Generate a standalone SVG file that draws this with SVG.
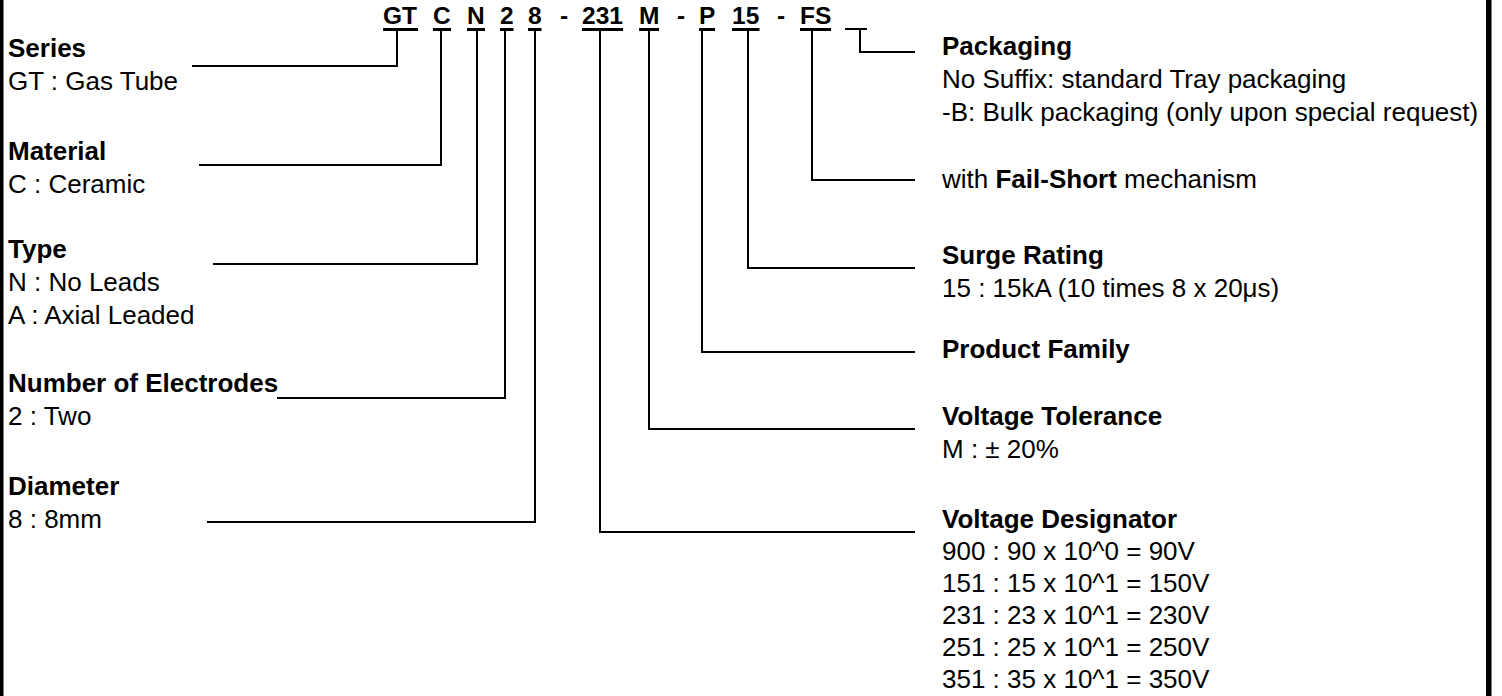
<svg xmlns="http://www.w3.org/2000/svg" width="1502" height="696" viewBox="0 0 1502 696">
<style>
text{font-family:"Liberation Sans",Arial,sans-serif;font-size:26px;fill:#000}
.b{font-weight:bold}
.code{font-weight:bold;font-size:24.5px}
.ln{stroke:#000;stroke-width:2;fill:none}
.ul{fill:#000}
</style>
<rect x="0" y="0" width="1502" height="696" fill="#fff"/>
<rect x="0" y="0" width="3.5" height="696" fill="#000"/>
<rect x="1486" y="0" width="5.5" height="696" fill="#000"/>

<g id="code">
<text class="code" x="383" y="24">GT</text>
<text class="code" x="433" y="24">C</text>
<text class="code" x="467" y="24">N</text>
<text class="code" x="500" y="24">2</text>
<text class="code" x="528" y="24">8</text>
<text class="code" x="560" y="24">-</text>
<text class="code" x="582" y="24">231</text>
<text class="code" x="639" y="24">M</text>
<text class="code" x="677" y="24">-</text>
<text class="code" x="699" y="24">P</text>
<text class="code" x="732" y="24">15</text>
<text class="code" x="777" y="24">-</text>
<text class="code" x="800" y="24">FS</text>
<rect class="ul" x="383" y="28" width="35" height="3"/>
<rect class="ul" x="433" y="28" width="18" height="3"/>
<rect class="ul" x="467" y="28" width="18" height="3"/>
<rect class="ul" x="500" y="28" width="13.5" height="3"/>
<rect class="ul" x="528" y="28" width="13.5" height="3"/>
<rect class="ul" x="582" y="28" width="41" height="3"/>
<rect class="ul" x="639" y="28" width="20" height="3"/>
<rect class="ul" x="699" y="28" width="16" height="3"/>
<rect class="ul" x="732" y="28" width="27.5" height="3"/>
<rect class="ul" x="800" y="28" width="31" height="3"/>
<rect class="ul" x="845" y="28" width="22" height="2"/>
</g>

<g id="connectors">
<polyline class="ln" points="397,31 397,66 192,66"/>
<polyline class="ln" points="441,31 441,165 199,165"/>
<polyline class="ln" points="477,31 477,264 213,264"/>
<polyline class="ln" points="505,31 505,398 277,398"/>
<polyline class="ln" points="535,31 535,522 207,522"/>
<polyline class="ln" points="860,30 860,52 915,52"/>
<polyline class="ln" points="812,31 812,180 915,180"/>
<polyline class="ln" points="748,31 748,268 915,268"/>
<polyline class="ln" points="702,31 702,352 915,352"/>
<polyline class="ln" points="649,31 649,429 915,429"/>
<polyline class="ln" points="600,31 600,532 915,532"/>
</g>

<g id="series">
<text class="b" x="8" y="57">Series</text>
<text x="8" y="90">GT : Gas Tube</text>
</g>
<g id="material">
<text class="b" x="8" y="160">Material</text>
<text x="8" y="193">C : Ceramic</text>
</g>
<g id="type">
<text class="b" x="8" y="258">Type</text>
<text x="8" y="291">N : No Leads</text>
<text x="8" y="324">A : Axial Leaded</text>
</g>
<g id="electrodes">
<text class="b" x="8" y="392">Number of Electrodes</text>
<text x="8" y="425">2 : Two</text>
</g>
<g id="diameter">
<text class="b" x="8" y="495">Diameter</text>
<text x="8" y="528">8 : 8mm</text>
</g>

<g id="packaging">
<text class="b" x="942" y="55">Packaging</text>
<text x="942" y="88">No Suffix: standard Tray packaging</text>
<text x="942" y="121">-B: Bulk packaging (only upon special request)</text>
</g>
<g id="failshort">
<text x="942" y="188">with <tspan class="b">Fail-Short</tspan> mechanism</text>
</g>
<g id="surge">
<text class="b" x="942" y="264">Surge Rating</text>
<text x="942" y="297">15 : 15kA (10 times 8 x 20μs)</text>
</g>
<g id="family">
<text class="b" x="942" y="358">Product Family</text>
</g>
<g id="tolerance">
<text class="b" x="942" y="425">Voltage Tolerance</text>
<text x="942" y="458">M : ± 20%</text>
</g>
<g id="designator">
<text class="b" x="942" y="528">Voltage Designator</text>
<text x="942" y="560">900 : 90 x 10^0 = 90V</text>
<text x="942" y="592">151 : 15 x 10^1 = 150V</text>
<text x="942" y="624">231 : 23 x 10^1 = 230V</text>
<text x="942" y="656">251 : 25 x 10^1 = 250V</text>
<text x="942" y="688">351 : 35 x 10^1 = 350V</text>
</g>
</svg>
